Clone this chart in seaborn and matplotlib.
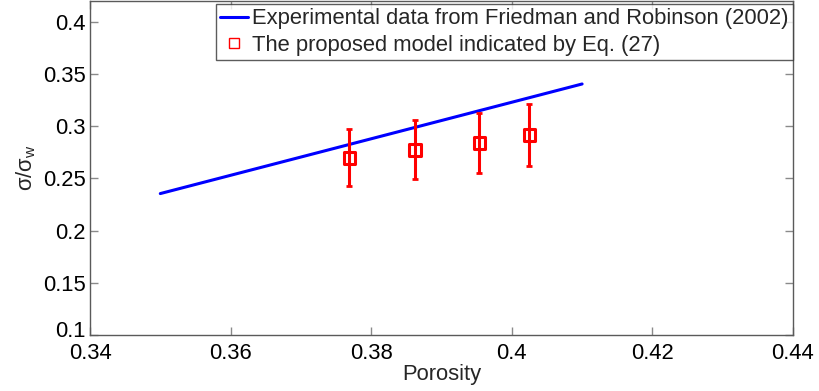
import matplotlib
matplotlib.use("Agg")
import matplotlib.pyplot as plt
import matplotlib.transforms as mtransforms
import seaborn as sns
import numpy as np
import pandas as pd
from matplotlib.lines import Line2D

# Experimental trend (Friedman and Robinson, 2002)
exp_porosity = [0.35, 0.41]
exp_ratio = [0.2355, 0.3405]

# Proposed model, Eq. (27), with error bars
model_porosity = [0.3769, 0.3862, 0.3954, 0.4025]
model_ratio = [0.2698, 0.2774, 0.2840, 0.2914]
model_err = [0.0271, 0.0282, 0.0287, 0.0295]

xticks = [0.34, 0.36, 0.38, 0.40, 0.42, 0.44]
xticklabels = ["0.34", "0.36", "0.38", "0.4", "0.42", "0.44"]
yticks = [0.1, 0.15, 0.2, 0.25, 0.3, 0.35, 0.4]
yticklabels = ["0.1", "0.15", "0.2", "0.25", "0.3", "0.35", "0.4"]

sns.set_style("white")
plt.rcParams["font.family"] = ["Liberation Sans", "DejaVu Sans"]
plt.rcParams["mathtext.fontset"] = "custom"
plt.rcParams["mathtext.rm"] = "Liberation Sans"
plt.rcParams["mathtext.it"] = "Liberation Sans"
plt.rcParams["mathtext.default"] = "regular"

FS = 15.8

fig = plt.figure(figsize=(8.19, 3.91), dpi=100)
ax = fig.add_axes([90 / 819, 56 / 391, 703 / 819, 334 / 391])

exp_df = pd.DataFrame({"porosity": exp_porosity, "ratio": exp_ratio})
sns.lineplot(data=exp_df, x="porosity", y="ratio", ax=ax, color="#0000ff",
             linewidth=2.2, zorder=2)

ax.errorbar(model_porosity, model_ratio, yerr=model_err, fmt="none",
            ecolor="#ff0000", elinewidth=2.2, capsize=2, capthick=2.0, zorder=3)
sns.scatterplot(x=model_porosity, y=model_ratio, ax=ax, marker="s", s=70,
                facecolor="none", edgecolor="#ff0000", linewidth=2.2, zorder=4)

ax.set_xlim(0.34, 0.44)
ax.set_ylim(0.1, 0.42)
ax.set_xticks(xticks)
ax.set_xticklabels(xticklabels)
ax.set_yticks(yticks)
ax.set_yticklabels(yticklabels)

spine_color = "#5a5a5a"
for s in ax.spines.values():
    s.set_visible(True)
    s.set_color(spine_color)
    s.set_linewidth(1.0)
ax.tick_params(direction="in", length=6, width=1.0, color="#8a8a8a",
               labelsize=FS, labelcolor="black", top=True, right=True,
               bottom=True, left=True)
ax.tick_params(axis="x", pad=6)
ax.tick_params(axis="y", pad=3)

# lift the lowest y label a touch so it clears the first x label
lowest = ax.get_yticklabels()[0]
lowest.set_transform(lowest.get_transform() +
                     mtransforms.ScaledTranslation(0, 4 / 72, fig.dpi_scale_trans))

ax.set_xlabel("Porosity", fontsize=FS, labelpad=0)
ax.set_ylabel(r"$\sigma/\sigma_w$", fontsize=FS, labelpad=4)

handles = [
    Line2D([], [], color="#0000ff", linewidth=2.2),
    Line2D([], [], color="#ff0000", marker="s", markersize=7.5, markerfacecolor="none",
           markeredgewidth=1.0, linestyle="none"),
]
labels = ["Experimental data from Friedman and Robinson (2002)",
          "The proposed model indicated by Eq. (27)"]
leg = ax.legend(handles, labels, loc="upper right", bbox_to_anchor=(1.0, 0.991),
                borderaxespad=0, fontsize=FS, frameon=True, fancybox=False,
                handlelength=1.25, handletextpad=0.2, borderpad=0.2,
                labelspacing=0.25)
leg.get_frame().set_edgecolor("#333333")
leg.get_frame().set_linewidth(1.0)

fig.savefig("out.png", dpi=100)
